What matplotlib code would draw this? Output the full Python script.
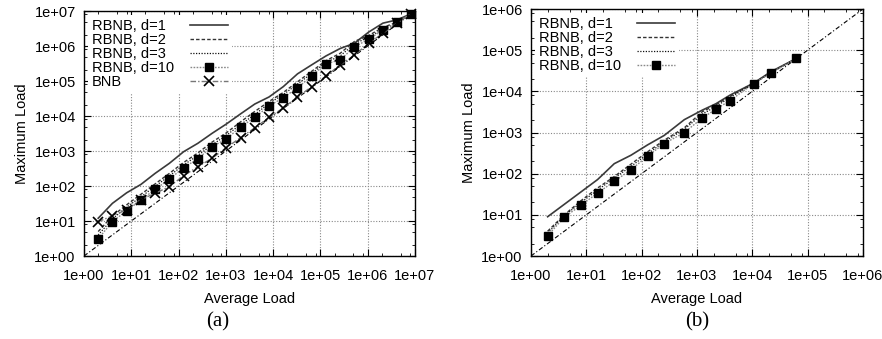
import numpy as np
import matplotlib
matplotlib.use("Agg")
import matplotlib.pyplot as plt
from matplotlib.ticker import LogLocator, FixedLocator, NullFormatter

plt.rcParams['font.family'] = ['Liberation Sans', 'DejaVu Sans']
plt.rcParams['font.size'] = 10.5

# ---- panel (a) data ----
avg_a = [2, 4, 8, 16, 32, 64, 128, 256, 512, 1024, 2048, 4096, 8192, 16384,
         32768, 65536, 131072, 262144, 524288, 1048576, 2097152, 4194304, 8388608]
d1_a = [12, 32, 64, 111, 230, 445, 955, 1660, 3200, 5900, 11500, 22000, 35000,
        69000, 160000, 290000, 520000, 850000, 1.2e6, 2.5e6, 4.5e6, 5.6e6, 8.4e6]
d2_a = [5, 14, 29, 58, 115, 230, 470, 880, 1800, 3300, 6800, 13500, 26000,
        47000, 95000, 190000, 380000, 620000, 1.35e6, 2.0e6, 3.4e6, 4.8e6, 8.4e6]
d3_a = [4, 11.5, 25, 49, 98, 195, 400, 750, 1500, 2800, 5700, 11000, 23000,
        41000, 82000, 165000, 340000, 520000, 1.15e6, 1.8e6, 3.0e6, 4.5e6, 8.4e6]
d10_a = [3.1, 9.6, 19.7, 40, 80, 158, 333, 605, 1330, 2200, 4870, 9100, 19300,
         33500, 64000, 139000, 314000, 398000, 955000, 1.55e6, 2.9e6, 4.7e6, 8.4e6]
bnb_a = [9.6, 14, 21, 41, 62, 96, 197, 355, 620, 1250, 2400, 4600, 9100,
         17000, 35000, 69000, 139000, 290000, 550000, 1.2e6, 2.3e6, 4.6e6, 8.4e6]

# ---- panel (b) data ----
avg_b = [2, 4, 8, 16, 32, 64, 128, 256, 590, 1250, 2200, 3900, 10700, 21700, 62700]
d1_b = [9, 18, 36, 72, 175, 280, 500, 850, 2050, 3500, 5000, 8000, 16000, 30000, 63000]
d2_b = [4, 10, 22, 45, 85, 170, 340, 650, 1300, 3200, 4700, 7500, 16000, 29000, 63000]
d3_b = [3.6, 9.5, 20, 40, 78, 150, 300, 600, 1200, 2800, 4300, 7000, 15500, 28500, 63000]
d10_b = [3.1, 8.8, 17, 34, 65, 125, 266, 540, 1000, 2250, 3700, 5900, 15500, 28000, 63000]

styles = {
    'RBNB, d=1': dict(color='#3a3a3a', lw=1.2, ls='-'),
    'RBNB, d=2': dict(color='#333333', lw=1.0, ls=(0, (2.5, 1.5))),
    'RBNB, d=3': dict(color='#111111', lw=0.9, ls=(0, (1, 1.2))),
    'RBNB, d=10': dict(color='#888888', lw=1.0, ls=(0, (1.2, 1)),
                       marker='s', ms=6, mfc='black', mec='black'),
    'BNB': dict(color='#777777', lw=1.0, ls=(0, (4, 1.5, 1, 1.5)),
                marker='x', ms=6.5, mew=1.2, mec='black'),
}
FS = 10.5


def setup(ax, top):
    ax.set_xscale('log')
    ax.set_yscale('log')
    ax.set_xlim(1, top[0])
    ax.set_ylim(1, top[1])
    for axis, lim in ((ax.xaxis, top[0]), (ax.yaxis, top[1])):
        n = int(round(np.log10(lim)))
        axis.set_major_locator(FixedLocator([10.0 ** k for k in range(n + 1)]))
        axis.set_minor_locator(LogLocator(base=10, subs=[2, 5, 8], numticks=50))
        axis.set_minor_formatter(NullFormatter())
        axis.set_major_formatter(plt.FuncFormatter(lambda v, p: '1e+%02d' % round(np.log10(v))))
    ax.tick_params(which='both', direction='in', top=True, right=True, color='black')
    ax.tick_params(which='major', length=5, width=0.8, pad=6)
    ax.tick_params(which='minor', length=2.5, width=0.6)
    ax.tick_params(axis='x', which='major', pad=9)
    ax.grid(True, which='major', ls=(0, (1, 1.5)), color='#888888', lw=0.8)
    ax.set_axisbelow(True)
    for s in ax.spines.values():
        s.set_linewidth(1.0)
    ax.set_xlabel('Average Load', labelpad=7)
    ax.set_ylabel('Maximum Load', labelpad=4)


fig = plt.figure(figsize=(8.82, 3.39), dpi=100)
ax1 = fig.add_axes([0.0952, 0.2448, 0.3753, 0.7227])
ax2 = fig.add_axes([0.602, 0.2448, 0.3764, 0.7286])

setup(ax1, (1e7, 1e7))
setup(ax2, (1e6, 1e6))

diag = dict(color='black', lw=0.8, ls=(0, (4, 2, 1, 2)))
ax1.plot([1, 1e7], [1, 1e7], **diag)
ax2.plot([1, 1e6], [1, 1e6], **diag)

for name, ys in zip(['RBNB, d=1', 'RBNB, d=2', 'RBNB, d=3', 'RBNB, d=10', 'BNB'],
                    [d1_a, d2_a, d3_a, d10_a, bnb_a]):
    ax1.plot(avg_a, ys, label=name, clip_on=False, **styles[name])

for name, ys in zip(['RBNB, d=1', 'RBNB, d=2', 'RBNB, d=3', 'RBNB, d=10'],
                    [d1_b, d2_b, d3_b, d10_b]):
    ax2.plot(avg_b, ys, label=name, clip_on=False, **styles[name])

legs = []
for ax in (ax1, ax2):
    leg = ax.legend(loc='upper left', markerfirst=False, frameon=True, fancybox=False,
                    framealpha=1, facecolor='white', edgecolor='none',
                    handlelength=2.6, handletextpad=1.1, labelspacing=0.0,
                    borderpad=0.25, borderaxespad=0.3, fontsize=FS)
    leg.set_zorder(5)
    legs.append(leg)

# gnuplot-style key: labels left-aligned, samples in one column on the right
fig.canvas.draw()
r = fig.canvas.get_renderer()
dpicor = r.points_to_pixels(1.0)
for leg in legs:
    for col in leg._legend_handle_box.get_children():
        col.align = 'left'
        rows = col.get_children()
        widths = [row.get_children()[0].get_bbox(r).width for row in rows]
        wmax = max(widths)
        for row, w in zip(rows, widths):
            row.sep = 1.1 * FS + (wmax - w) / dpicor

fig.text(0.247, 0.05, '(a)', family='Liberation Serif', fontsize=15, ha='center', va='center')
fig.text(0.79, 0.05, '(b)', family='Liberation Serif', fontsize=15, ha='center', va='center')

fig.savefig('out.png', dpi=100)
